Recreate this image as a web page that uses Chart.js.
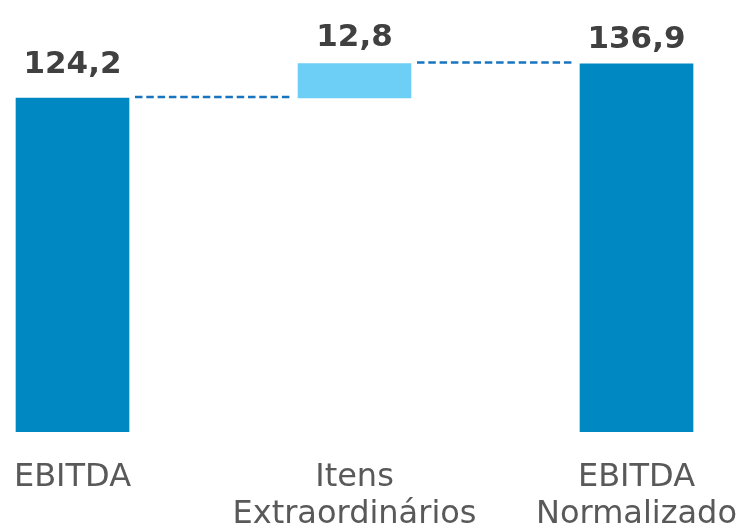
<!DOCTYPE html>
<html>
<head>
<meta charset="utf-8">
<script src="https://cdn.jsdelivr.net/npm/chart.js@4/dist/chart.umd.min.js"></script>
<style>
  html, body { margin: 0; padding: 0; background: #ffffff; }
  #wrap { width: 738px; height: 524px; position: relative; }
</style>
</head>
<body>
<div id="wrap"><canvas id="c" width="738" height="524"></canvas></div>
<script>
// ---- data ----
const categories = [["EBITDA"], ["Itens", "Extraordinários"], ["EBITDA", "Normalizado"]];
const values = [124.2, 12.8, 136.9];
const kinds = ["total", "delta", "total"];
const valueLabels = ["124,2", "12,8", "136,9"];

// build floating ranges for waterfall
const ranges = [];
let running = 0;
values.forEach((v, i) => {
  if (kinds[i] === "total") { ranges.push([0, v]); running = v; }
  else { ranges.push([running, running + v]); running = running + v; }
});

const darkBlue = "#0088C2";
const lightBlue = "#6DCFF5";

const labelGaps = [25, 18, 16];

const waterfallPlugin = {
  id: "waterfallExtras",
  afterDatasetsDraw(chart) {
    const ctx = chart.ctx;
    const meta = chart.getDatasetMeta(0);
    const yScale = chart.scales.y;
    // connectors
    ctx.save();
    ctx.strokeStyle = "#1874BE";
    ctx.lineWidth = 2.5;
    ctx.setLineDash([7.5, 3.8]);
    for (let i = 0; i < meta.data.length - 1; i++) {
      const a = meta.data[i], b = meta.data[i + 1];
      const ya = yScale.getPixelForValue(ranges[i][1]) - 1;
      const x1 = a.x + a.width / 2 + 6;
      const x2 = b.x - b.width / 2 - 6;
      ctx.beginPath();
      ctx.moveTo(x1, ya);
      ctx.lineTo(x2, ya);
      ctx.stroke();
    }
    ctx.restore();
    // value labels
    ctx.save();
    ctx.fillStyle = "#404040";
    ctx.font = "bold 31px 'DejaVu Sans'";
    ctx.textAlign = "center";
    ctx.textBaseline = "alphabetic";
    meta.data.forEach((el, i) => {
      const top = Math.min(el.y, el.base);
      ctx.fillText(valueLabels[i], el.x, top - labelGaps[i]);
    });
    ctx.restore();
  }
};

new Chart(document.getElementById("c"), {
  type: "bar",
  data: {
    datasets: [{
      data: ranges.map((r, i) => ({ x: i, y: r })),
      backgroundColor: kinds.map(k => k === "total" ? darkBlue : lightBlue),
      borderWidth: 0,
      barThickness: 113
    }]
  },
  options: {
    responsive: false,
    animation: false,
    devicePixelRatio: 1,
    layout: { padding: 0 },
    plugins: { legend: { display: false }, tooltip: { enabled: false } },
    scales: {
      x: {
        type: "linear",
        offset: false,
        bounds: "ticks",
        min: -72.5 / 282,
        max: -72.5 / 282 + 738 / 282,
        grid: { display: false, drawTicks: false },
        border: { display: false },
        afterBuildTicks: (scale) => { scale.ticks = categories.map((c, i) => ({ value: i })); },
        afterFit: (scale) => {
          scale.height = 92;
          scale.paddingLeft = 0;
          scale.paddingRight = 0;
        },
        ticks: {
          autoSkip: false,
          maxRotation: 0,
          minRotation: 0,
          padding: 27,
          color: "#595959",
          font: { family: "'DejaVu Sans'", size: 32, lineHeight: 1.15 },
          callback: (v) => categories[v] || ""
        }
      },
      y: {
        display: false,
        min: 0,
        max: 432 / (334 / 124.2)
      }
    }
  },
  plugins: [waterfallPlugin]
});
</script>
</body>
</html>
